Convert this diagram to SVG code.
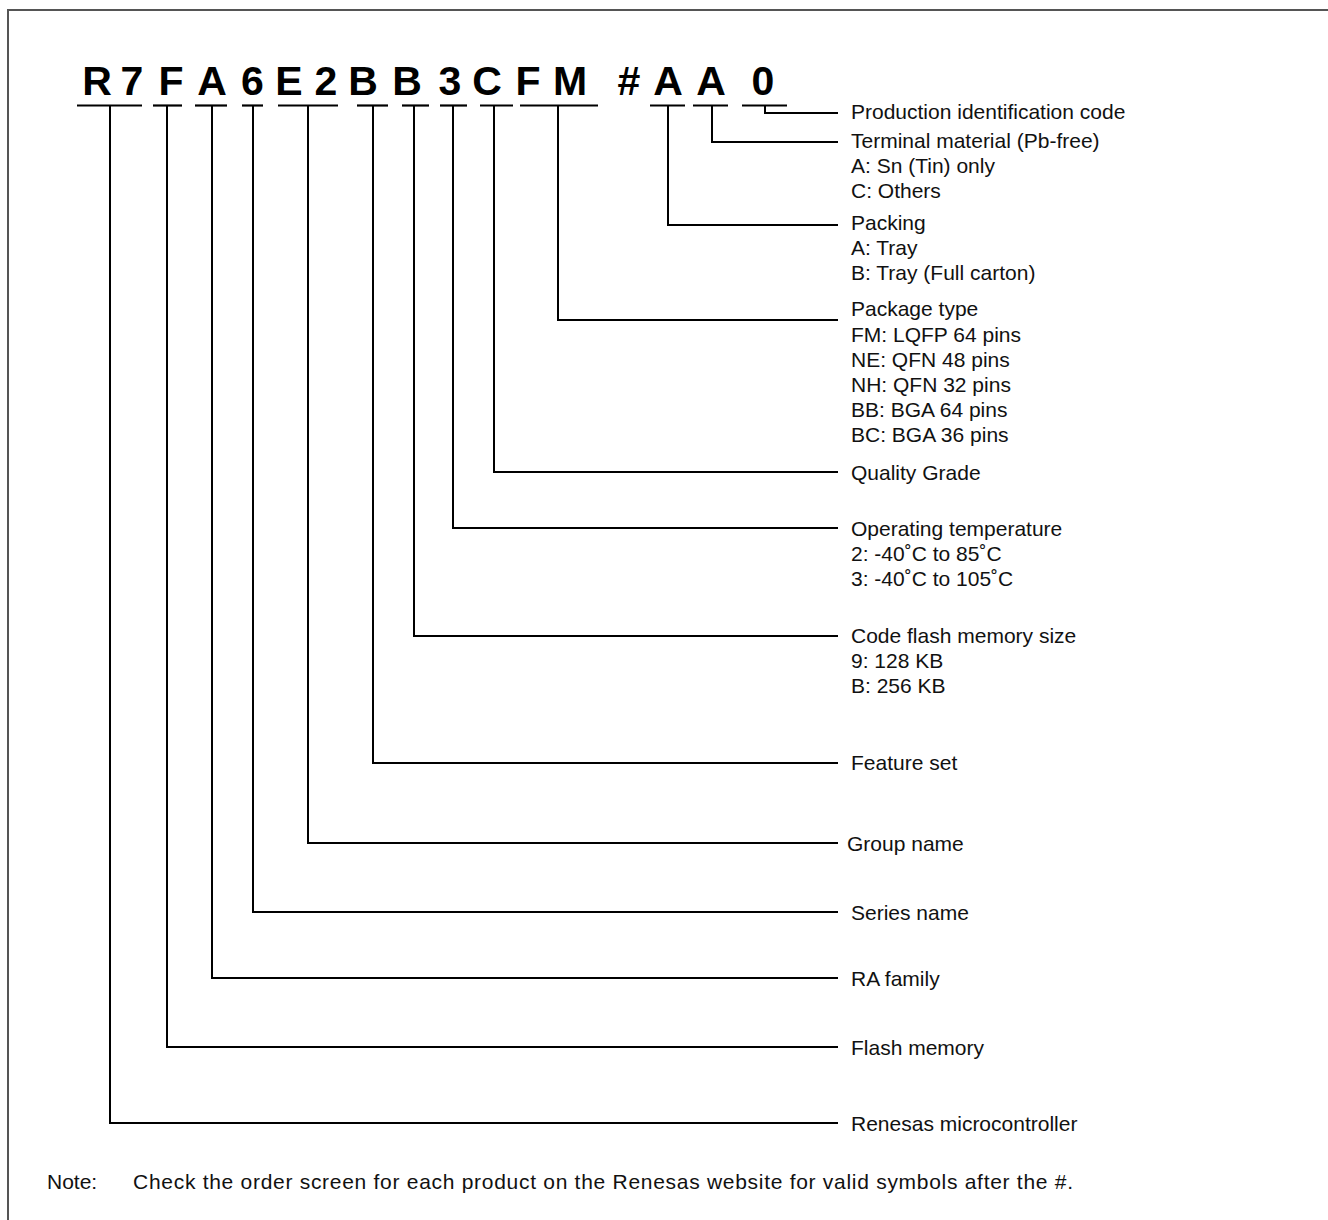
<svg xmlns="http://www.w3.org/2000/svg" width="1328" height="1220" viewBox="0 0 1328 1220">
<style>
.code{font-family:"Liberation Sans",Arial,sans-serif;font-weight:bold;font-size:41px;fill:#000;text-anchor:middle}
.lbl{font-family:"Liberation Sans",Arial,sans-serif;font-size:21px;fill:#111}
.ln{stroke:#000;stroke-width:2;fill:none}
.ul{stroke:#000;stroke-width:2.2}
</style>
<rect width="1328" height="1220" fill="#fff"/>
<path d="M8 1220 V10 H1328" fill="none" stroke="#555" stroke-width="2"/>
<g id="partnumber">
<text class="code" x="97" y="95">R</text>
<text class="code" x="132" y="95">7</text>
<text class="code" x="171" y="95">F</text>
<text class="code" x="212" y="95">A</text>
<text class="code" x="252.5" y="95">6</text>
<text class="code" x="289" y="95">E</text>
<text class="code" x="326" y="95">2</text>
<text class="code" x="363" y="95">B</text>
<text class="code" x="407" y="95">B</text>
<text class="code" x="450" y="95">3</text>
<text class="code" x="487" y="95">C</text>
<text class="code" x="528" y="95">F</text>
<text class="code" x="570" y="95">M</text>
<text class="code" x="629" y="95">#</text>
<text class="code" x="668" y="95">A</text>
<text class="code" x="711" y="95">A</text>
<text class="code" x="763" y="95">0</text>
</g>
<g id="underlines">
<line class="ul" x1="77" y1="105.5" x2="142" y2="105.5"/>
<line class="ul" x1="153" y1="105.5" x2="182" y2="105.5"/>
<line class="ul" x1="195" y1="105.5" x2="227" y2="105.5"/>
<line class="ul" x1="242" y1="105.5" x2="263" y2="105.5"/>
<line class="ul" x1="278" y1="105.5" x2="338" y2="105.5"/>
<line class="ul" x1="357" y1="105.5" x2="388" y2="105.5"/>
<line class="ul" x1="402" y1="105.5" x2="429" y2="105.5"/>
<line class="ul" x1="440" y1="105.5" x2="467" y2="105.5"/>
<line class="ul" x1="480" y1="105.5" x2="513" y2="105.5"/>
<line class="ul" x1="520" y1="105.5" x2="598" y2="105.5"/>
<line class="ul" x1="650" y1="105.5" x2="685" y2="105.5"/>
<line class="ul" x1="693" y1="105.5" x2="728" y2="105.5"/>
<line class="ul" x1="742" y1="105.5" x2="787" y2="105.5"/>
</g>
<g id="connectors">
<polyline class="ln" points="765,106 765,113 838,113"/>
<polyline class="ln" points="712,106 712,142 838,142"/>
<polyline class="ln" points="668,106 668,225 838,225"/>
<polyline class="ln" points="558,106 558,320 838,320"/>
<polyline class="ln" points="494,106 494,472 838,472"/>
<polyline class="ln" points="453,106 453,528 838,528"/>
<polyline class="ln" points="414,106 414,636 838,636"/>
<polyline class="ln" points="373,106 373,763 838,763"/>
<polyline class="ln" points="308,106 308,843 838,843"/>
<polyline class="ln" points="253,106 253,912 838,912"/>
<polyline class="ln" points="212,106 212,978 838,978"/>
<polyline class="ln" points="167,106 167,1047 838,1047"/>
<polyline class="ln" points="110,106 110,1123 838,1123"/>
</g>
<g id="label-production">
<text class="lbl" x="851" y="119">Production identification code</text>
</g>
<g id="label-terminal">
<text class="lbl" x="851" y="148">Terminal material (Pb-free)</text>
<text class="lbl" x="851" y="173">A: Sn (Tin) only</text>
<text class="lbl" x="851" y="198">C: Others</text>
</g>
<g id="label-packing">
<text class="lbl" x="851" y="230">Packing</text>
<text class="lbl" x="851" y="255">A: Tray</text>
<text class="lbl" x="851" y="280">B: Tray (Full carton)</text>
</g>
<g id="label-package">
<text class="lbl" x="851" y="316">Package type</text>
<text class="lbl" x="851" y="342">FM: LQFP 64 pins</text>
<text class="lbl" x="851" y="367">NE: QFN 48 pins</text>
<text class="lbl" x="851" y="392">NH: QFN 32 pins</text>
<text class="lbl" x="851" y="417">BB: BGA 64 pins</text>
<text class="lbl" x="851" y="442">BC: BGA 36 pins</text>
</g>
<g id="label-quality">
<text class="lbl" x="851" y="480">Quality Grade</text>
</g>
<g id="label-temperature">
<text class="lbl" x="851" y="536">Operating temperature</text>
<text class="lbl" x="851" y="561">2: -40˚C to 85˚C</text>
<text class="lbl" x="851" y="586">3: -40˚C to 105˚C</text>
</g>
<g id="label-flash-size">
<text class="lbl" x="851" y="643">Code flash memory size</text>
<text class="lbl" x="851" y="668">9: 128 KB</text>
<text class="lbl" x="851" y="693">B: 256 KB</text>
</g>
<g id="label-feature">
<text class="lbl" x="851" y="770">Feature set</text>
</g>
<g id="label-group">
<text class="lbl" x="847" y="851">Group name</text>
</g>
<g id="label-series">
<text class="lbl" x="851" y="920">Series name</text>
</g>
<g id="label-family">
<text class="lbl" x="851" y="986">RA family</text>
</g>
<g id="label-flash">
<text class="lbl" x="851" y="1055">Flash memory</text>
</g>
<g id="label-renesas">
<text class="lbl" x="851" y="1131">Renesas microcontroller</text>
</g>
<g id="note">
<text class="lbl" x="47" y="1189">Note:</text>
<text class="lbl" x="133" y="1189" textLength="940" lengthAdjust="spacing">Check the order screen for each product on the Renesas website for valid symbols after the #.</text>
</g>
</svg>
